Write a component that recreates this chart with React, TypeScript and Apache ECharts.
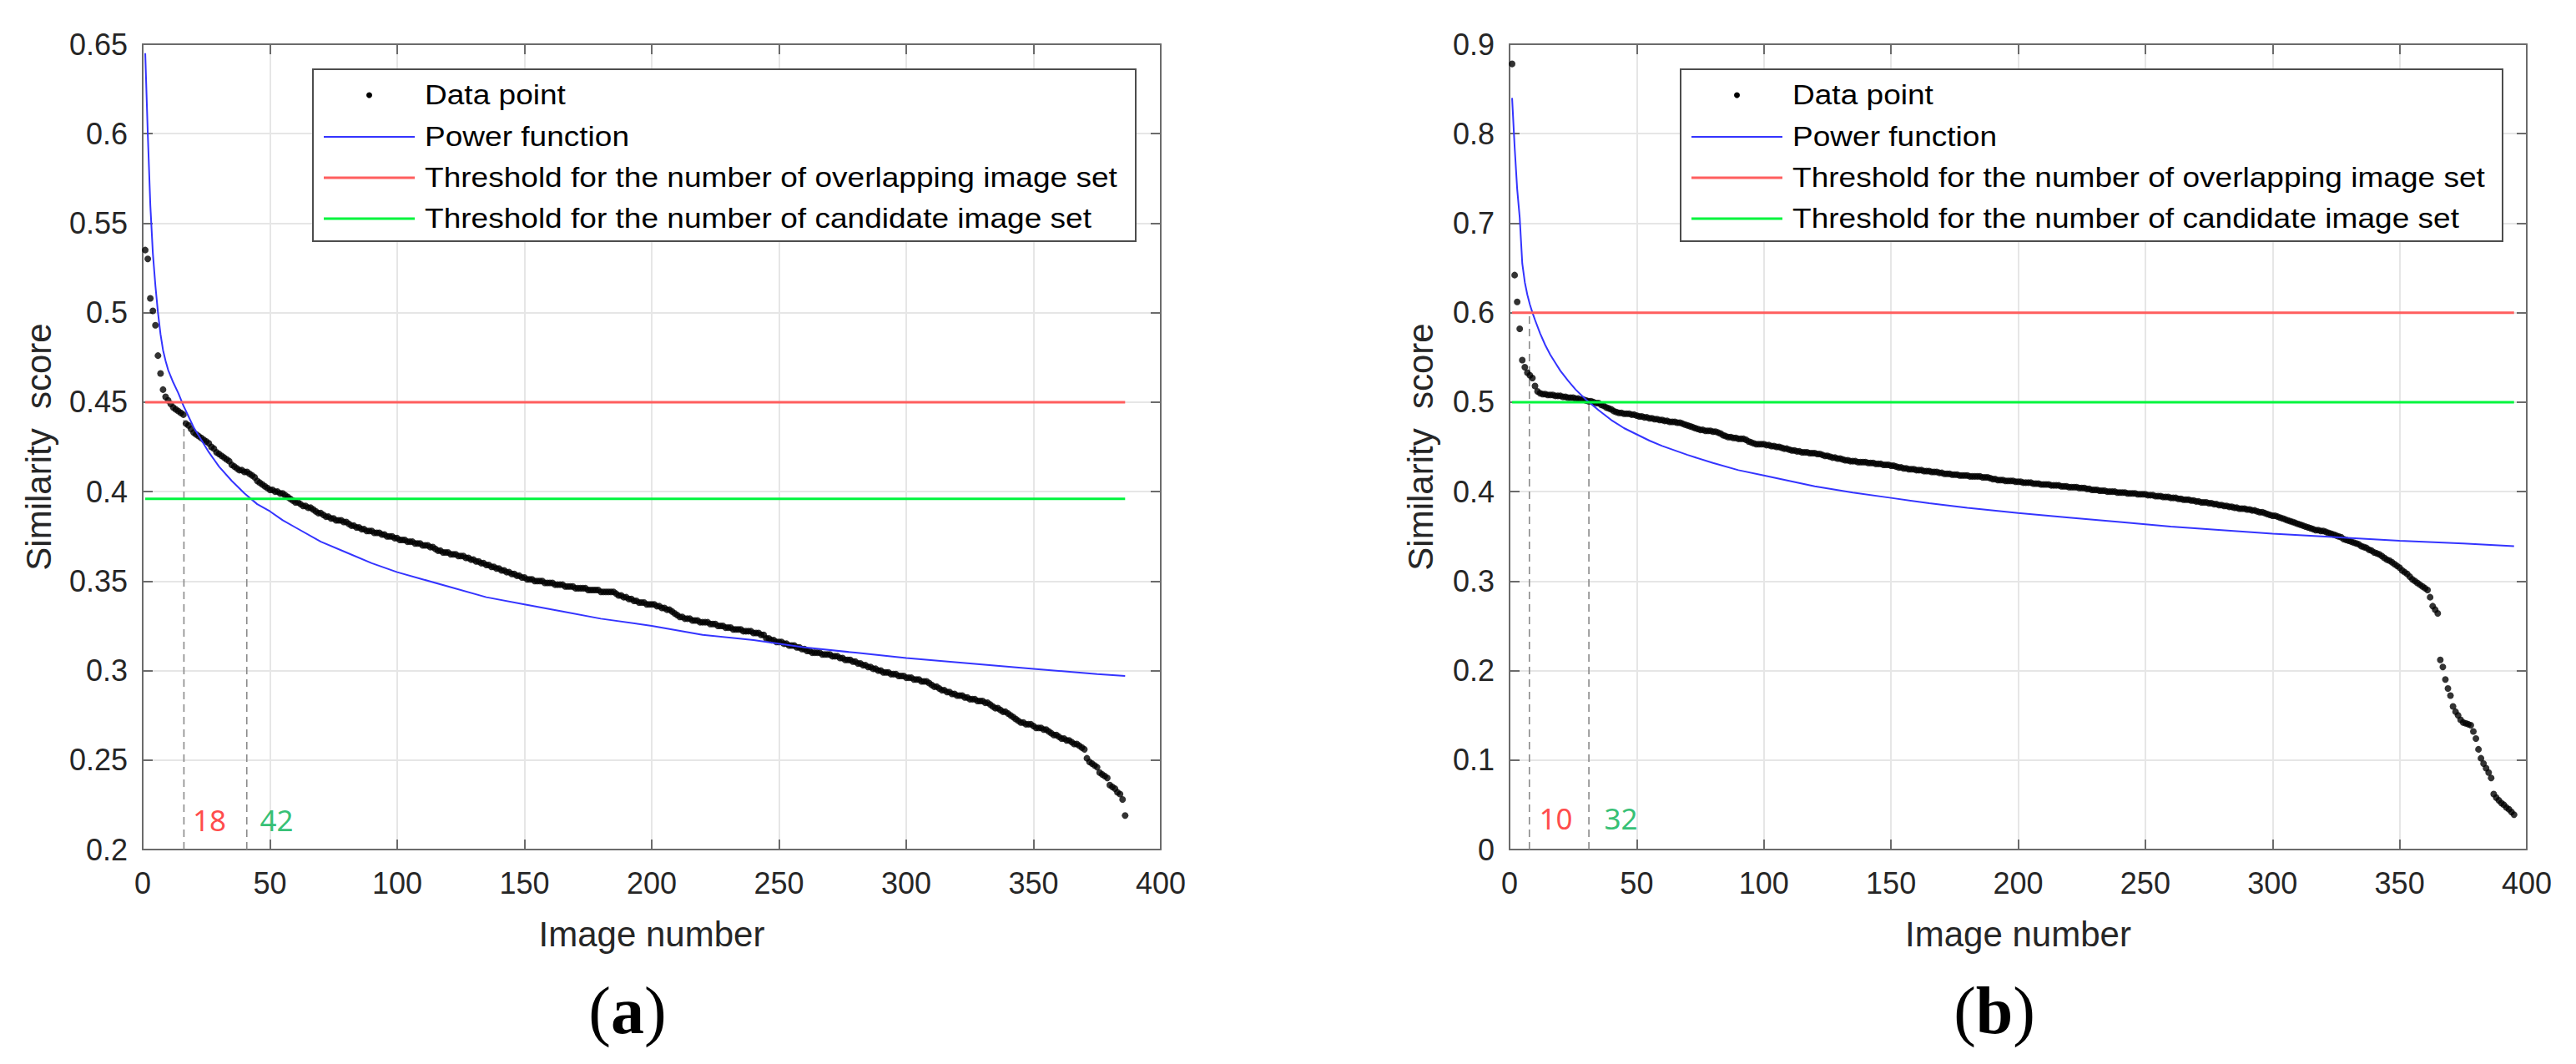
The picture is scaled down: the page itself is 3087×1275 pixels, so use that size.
import React, { useEffect, useRef } from "react";
import * as echarts from "echarts";

const W = 3087;
const H = 1275;

// ---------- data ----------
const xTickRange = [0, 400, 50];
const leftYRange = [0.2, 0.65, 0.05];
const rightYRange = [0, 0.9, 0.1];

const legendLabels = [
  "Data point",
  "Power function",
  "Threshold for the number of overlapping image set",
  "Threshold for the number of candidate image set",
];

const leftScores = [
  0.535, 0.530, 0.508, 0.501, 0.493, 0.476, 0.466, 0.457, 0.453, 0.451,
  0.449, 0.447, 0.446, 0.445, 0.444, 0.443, 0.438, 0.437, 0.435, 0.433,
  0.432, 0.431, 0.430, 0.429, 0.428, 0.427, 0.425, 0.424, 0.422, 0.421,
  0.420, 0.419, 0.418, 0.417, 0.415, 0.414, 0.413, 0.412, 0.412, 0.411,
  0.411, 0.410, 0.409, 0.408, 0.406, 0.405, 0.404, 0.403, 0.402, 0.401,
  0.401, 0.400, 0.400, 0.399, 0.399, 0.398, 0.397, 0.396, 0.395, 0.394,
  0.394, 0.393, 0.392, 0.392, 0.391, 0.391, 0.390, 0.389, 0.388, 0.388,
  0.387, 0.386, 0.386, 0.385, 0.385, 0.384, 0.384, 0.384, 0.383, 0.383,
  0.382, 0.381, 0.381, 0.380, 0.380, 0.379, 0.379, 0.378, 0.378, 0.378,
  0.377, 0.377, 0.377, 0.376, 0.376, 0.375, 0.375, 0.375, 0.374, 0.374,
  0.373, 0.373, 0.373, 0.372, 0.372, 0.372, 0.371, 0.371, 0.371, 0.370,
  0.370, 0.370, 0.369, 0.369, 0.368, 0.367, 0.367, 0.366, 0.366, 0.366,
  0.365, 0.365, 0.365, 0.364, 0.364, 0.364, 0.363, 0.363, 0.362, 0.362,
  0.361, 0.361, 0.360, 0.360, 0.359, 0.359, 0.358, 0.358, 0.357, 0.357,
  0.356, 0.356, 0.355, 0.355, 0.354, 0.354, 0.353, 0.353, 0.352, 0.352,
  0.351, 0.351, 0.351, 0.350, 0.350, 0.350, 0.350, 0.349, 0.349, 0.349,
  0.349, 0.348, 0.348, 0.348, 0.348, 0.347, 0.347, 0.347, 0.347, 0.346,
  0.346, 0.346, 0.346, 0.346, 0.345, 0.345, 0.345, 0.345, 0.345, 0.344,
  0.344, 0.344, 0.344, 0.344, 0.344, 0.343, 0.342, 0.342, 0.341, 0.341,
  0.340, 0.340, 0.339, 0.339, 0.338, 0.338, 0.338, 0.337, 0.337, 0.337,
  0.337, 0.336, 0.336, 0.335, 0.335, 0.334, 0.334, 0.333, 0.332, 0.331,
  0.330, 0.330, 0.329, 0.329, 0.329, 0.328, 0.328, 0.328, 0.327, 0.327,
  0.327, 0.327, 0.326, 0.326, 0.326, 0.325, 0.325, 0.325, 0.324, 0.324,
  0.324, 0.323, 0.323, 0.323, 0.323, 0.322, 0.322, 0.322, 0.322, 0.321,
  0.321, 0.321, 0.320, 0.320, 0.318, 0.318, 0.317, 0.317, 0.316, 0.316,
  0.316, 0.315, 0.315, 0.314, 0.314, 0.314, 0.313, 0.313, 0.312, 0.312,
  0.311, 0.311, 0.310, 0.310, 0.310, 0.310, 0.309, 0.309, 0.309, 0.309,
  0.308, 0.308, 0.308, 0.307, 0.307, 0.306, 0.306, 0.306, 0.305, 0.305,
  0.304, 0.304, 0.303, 0.303, 0.302, 0.302, 0.301, 0.301, 0.300, 0.300,
  0.299, 0.299, 0.299, 0.298, 0.298, 0.298, 0.297, 0.297, 0.297, 0.296,
  0.296, 0.296, 0.295, 0.295, 0.295, 0.294, 0.294, 0.294, 0.293, 0.292,
  0.291, 0.291, 0.290, 0.289, 0.289, 0.288, 0.288, 0.287, 0.287, 0.286,
  0.286, 0.286, 0.285, 0.285, 0.284, 0.284, 0.284, 0.283, 0.283, 0.283,
  0.282, 0.282, 0.281, 0.280, 0.279, 0.279, 0.278, 0.277, 0.277, 0.276,
  0.275, 0.274, 0.273, 0.272, 0.271, 0.271, 0.270, 0.270, 0.270, 0.269,
  0.268, 0.268, 0.268, 0.267, 0.267, 0.266, 0.265, 0.264, 0.264, 0.263,
  0.262, 0.262, 0.261, 0.261, 0.260, 0.259, 0.259, 0.258, 0.257, 0.256,
  0.251, 0.249, 0.248, 0.247, 0.246, 0.243, 0.242, 0.241, 0.240, 0.236,
  0.235, 0.234, 0.232, 0.231, 0.228, 0.219,
];

const rightScores = [
  0.878, 0.642, 0.612, 0.582, 0.547, 0.539, 0.533, 0.530, 0.527, 0.518,
  0.512, 0.510, 0.509, 0.509, 0.508, 0.508, 0.508, 0.507, 0.507, 0.507,
  0.506, 0.506, 0.505, 0.505, 0.505, 0.504, 0.504, 0.503, 0.503, 0.502,
  0.501, 0.501, 0.500, 0.499, 0.499, 0.497, 0.496, 0.494, 0.493, 0.492,
  0.490, 0.489, 0.488, 0.488, 0.487, 0.487, 0.487, 0.486, 0.486, 0.485,
  0.484, 0.484, 0.483, 0.483, 0.482, 0.482, 0.481, 0.481, 0.480, 0.480,
  0.479, 0.479, 0.478, 0.478, 0.478, 0.477, 0.477, 0.476, 0.475, 0.474,
  0.473, 0.472, 0.471, 0.470, 0.469, 0.469, 0.468, 0.468, 0.468, 0.467,
  0.467, 0.466, 0.465, 0.463, 0.462, 0.461, 0.461, 0.460, 0.460, 0.459,
  0.459, 0.459, 0.458, 0.456, 0.455, 0.454, 0.453, 0.453, 0.453, 0.453,
  0.452, 0.452, 0.451, 0.451, 0.450, 0.450, 0.449, 0.448, 0.448, 0.447,
  0.446, 0.446, 0.445, 0.445, 0.444, 0.444, 0.444, 0.443, 0.443, 0.443,
  0.442, 0.442, 0.441, 0.440, 0.440, 0.439, 0.438, 0.438, 0.437, 0.437,
  0.436, 0.435, 0.435, 0.434, 0.434, 0.434, 0.433, 0.433, 0.433, 0.433,
  0.432, 0.432, 0.432, 0.431, 0.431, 0.431, 0.430, 0.430, 0.430, 0.429,
  0.429, 0.428, 0.427, 0.427, 0.426, 0.426, 0.425, 0.425, 0.425, 0.424,
  0.424, 0.424, 0.423, 0.423, 0.423, 0.422, 0.422, 0.422, 0.421, 0.421,
  0.420, 0.420, 0.420, 0.419, 0.419, 0.419, 0.418, 0.418, 0.418, 0.418,
  0.417, 0.417, 0.417, 0.417, 0.417, 0.416, 0.416, 0.416, 0.415, 0.414,
  0.414, 0.413, 0.413, 0.413, 0.412, 0.412, 0.412, 0.412, 0.411, 0.411,
  0.411, 0.410, 0.410, 0.410, 0.410, 0.409, 0.409, 0.409, 0.408, 0.408,
  0.408, 0.408, 0.407, 0.407, 0.407, 0.407, 0.406, 0.406, 0.406, 0.405,
  0.405, 0.405, 0.405, 0.404, 0.404, 0.404, 0.403, 0.403, 0.402, 0.402,
  0.402, 0.401, 0.401, 0.401, 0.400, 0.400, 0.400, 0.400, 0.399, 0.399,
  0.399, 0.399, 0.398, 0.398, 0.398, 0.398, 0.397, 0.397, 0.397, 0.397,
  0.396, 0.396, 0.396, 0.395, 0.395, 0.395, 0.394, 0.394, 0.394, 0.393,
  0.393, 0.393, 0.392, 0.392, 0.391, 0.391, 0.391, 0.390, 0.390, 0.389,
  0.389, 0.388, 0.388, 0.388, 0.387, 0.387, 0.386, 0.386, 0.385, 0.385,
  0.384, 0.384, 0.383, 0.383, 0.382, 0.382, 0.381, 0.381, 0.381, 0.380,
  0.380, 0.379, 0.379, 0.378, 0.377, 0.377, 0.376, 0.375, 0.374, 0.373,
  0.373, 0.372, 0.371, 0.370, 0.369, 0.368, 0.367, 0.366, 0.365, 0.364,
  0.363, 0.362, 0.361, 0.360, 0.359, 0.358, 0.357, 0.357, 0.356, 0.356,
  0.355, 0.354, 0.353, 0.352, 0.351, 0.350, 0.349, 0.347, 0.346, 0.345,
  0.344, 0.343, 0.342, 0.341, 0.339, 0.338, 0.337, 0.335, 0.334, 0.332,
  0.331, 0.330, 0.328, 0.326, 0.324, 0.323, 0.321, 0.319, 0.317, 0.315,
  0.312, 0.310, 0.308, 0.305, 0.302, 0.300, 0.298, 0.296, 0.294, 0.292,
  0.290, 0.282, 0.272, 0.268, 0.264, 0.212, 0.204, 0.190, 0.180, 0.172,
  0.160, 0.154, 0.150, 0.145, 0.142, 0.141, 0.140, 0.139, 0.132, 0.124,
  0.112, 0.102, 0.096, 0.091, 0.086, 0.080, 0.062, 0.058, 0.055, 0.052,
  0.050, 0.047, 0.045, 0.042, 0.039,
];

// fitted power-function curve
const leftPowerX = [1, 2, 3, 4, 5, 6, 7, 8, 9, 10, 12, 14, 16, 18, 20, 23, 26, 30, 35, 40, 45, 50, 55, 60, 70, 80, 90, 100, 110, 120, 135, 150, 165, 180, 200, 220, 240, 260, 280, 300, 325, 350, 375, 386];
const leftPowerY = [0.645, 0.6, 0.56, 0.533, 0.515, 0.5, 0.488, 0.479, 0.473, 0.468, 0.461, 0.455, 0.448, 0.442, 0.436, 0.429, 0.422, 0.414, 0.406, 0.399, 0.393, 0.389, 0.384, 0.38, 0.372, 0.366, 0.36, 0.355, 0.351, 0.347, 0.341, 0.337, 0.333, 0.329, 0.325, 0.32, 0.317, 0.313, 0.31, 0.307, 0.304, 0.301, 0.298, 0.297];
const rightPowerX = [1, 2, 3, 4, 5, 6, 7, 8, 9, 10, 12, 14, 16, 18, 20, 23, 26, 30, 35, 40, 45, 50, 55, 60, 70, 80, 90, 100, 110, 120, 135, 150, 165, 180, 200, 220, 240, 260, 280, 300, 325, 350, 375, 395];
const rightPowerY = [0.84, 0.785, 0.738, 0.706, 0.655, 0.634, 0.62, 0.609, 0.6, 0.592, 0.577, 0.564, 0.553, 0.544, 0.535, 0.524, 0.514, 0.503, 0.491, 0.48, 0.471, 0.464, 0.457, 0.451, 0.441, 0.432, 0.424, 0.418, 0.412, 0.406, 0.399, 0.393, 0.387, 0.382, 0.376, 0.371, 0.366, 0.361, 0.357, 0.353, 0.349, 0.345, 0.342, 0.339];

// thresholds: [overlapping, candidate]
const leftThresholds = [0.45, 0.396];
const rightThresholds = [0.6, 0.5];
// dashed cut-off lines: x position, top value
const leftCutX = [16.2, 40.9];
const leftCutTop = [0.44, 0.396];
const rightCutX = [7.8, 31.2];
const rightCutTop = [0.6, 0.5];
// annotation numbers and their anchor (data coords)
const leftAnnText = ["18", "42"];
const leftAnnX = [26.2, 52.6];
const leftAnnY = [0.2166, 0.2166];
const rightAnnText = ["10", "32"];
const rightAnnX = [18.2, 43.8];
const rightAnnY = [0.0348, 0.0348];

// ---------- styles ----------
const SANS = "'Liberation Sans', Arial, Helvetica, sans-serif";
const SERIF = "'Liberation Serif', 'Times New Roman', serif";
const AXIS_COLOR = "#6b6b6b";
const LABEL_COLOR = "#262626";
const GRID_COLOR = "#e6e6e6";
const BLUE = "#3434ff";
const RED = "#ff5e5e";
const GREEN = "#00f53d";
const ANN_COLORS = ["#ff1a1a", "#00b050"];

const grids = [
  { left: 171, top: 53, width: 1220, height: 965 },
  { left: 1809, top: 53, width: 1219, height: 965 },
];

function fmt(v: number) {
  return String(parseFloat(v.toFixed(2)));
}

function mainX(gridIndex: number) {
  return {
    type: "value",
    gridIndex,
    position: "bottom",
    min: xTickRange[0],
    max: xTickRange[1],
    interval: xTickRange[2],
    name: "Image number",
    nameLocation: "middle",
    nameGap: 80,
    nameTextStyle: { fontFamily: SANS, fontSize: 42, color: LABEL_COLOR },
    axisLine: { show: true, onZero: false, lineStyle: { color: AXIS_COLOR, width: 2 } },
    axisTick: { show: true, inside: true, length: 12, lineStyle: { color: AXIS_COLOR, width: 2 } },
    axisLabel: { fontFamily: SANS, fontSize: 36, color: LABEL_COLOR, margin: 22 },
    splitLine: { show: true, lineStyle: { color: GRID_COLOR, width: 2 } },
  };
}
function topX(gridIndex: number) {
  return {
    type: "value",
    gridIndex,
    position: "top",
    min: xTickRange[0],
    max: xTickRange[1],
    interval: xTickRange[2],
    axisLine: { show: true, onZero: false, lineStyle: { color: AXIS_COLOR, width: 2 } },
    axisTick: { show: true, inside: true, length: 12, lineStyle: { color: AXIS_COLOR, width: 2 } },
    axisLabel: { show: false },
    splitLine: { show: false },
  };
}
function mainY(gridIndex: number, range: number[], nameGap: number) {
  return {
    type: "value",
    gridIndex,
    position: "left",
    min: range[0],
    max: range[1],
    interval: range[2],
    name: "Similarity  score",
    nameLocation: "middle",
    nameGap,
    nameTextStyle: { fontFamily: SANS, fontSize: 42, color: LABEL_COLOR },
    axisLine: { show: true, onZero: false, lineStyle: { color: AXIS_COLOR, width: 2 } },
    axisTick: { show: true, inside: true, length: 12, lineStyle: { color: AXIS_COLOR, width: 2 } },
    axisLabel: { fontFamily: SANS, fontSize: 36, color: LABEL_COLOR, margin: 18, formatter: fmt },
    splitLine: { show: true, lineStyle: { color: GRID_COLOR, width: 2 } },
  };
}
function rightY(gridIndex: number, range: number[]) {
  return {
    type: "value",
    gridIndex,
    position: "right",
    min: range[0],
    max: range[1],
    interval: range[2],
    axisLine: { show: true, onZero: false, lineStyle: { color: AXIS_COLOR, width: 2 } },
    axisTick: { show: true, inside: true, length: 12, lineStyle: { color: AXIS_COLOR, width: 2 } },
    axisLabel: { show: false },
    splitLine: { show: false },
  };
}

function panelSeries(
  xi: number,
  yi: number,
  scores: number[],
  px: number[],
  py: number[],
  thr: number[],
  cutX: number[],
  cutTop: number[],
  yMin: number,
  annText: string[],
  annX: number[],
  annY: number[]
) {
  const n = scores.length;
  const base = { xAxisIndex: xi, yAxisIndex: yi, silent: true, animation: false };
  const out: any[] = [
    {
      ...base,
      type: "scatter",
      name: legendLabels[0],
      symbol: "circle",
      symbolSize: 8,
      itemStyle: { color: "#000" },
      data: scores.map((v, i) => [i + 1, v]),
      z: 2,
    },
    {
      ...base,
      type: "line",
      name: legendLabels[1],
      symbol: "none",
      lineStyle: { color: BLUE, width: 2 },
      data: px.map((x, i) => [x, py[i]]),
      z: 3,
    },
    {
      ...base,
      type: "line",
      name: legendLabels[2],
      symbol: "none",
      lineStyle: { color: RED, width: 3 },
      data: [[1, thr[0]], [n, thr[0]]],
      z: 4,
    },
    {
      ...base,
      type: "line",
      name: legendLabels[3],
      symbol: "none",
      lineStyle: { color: GREEN, width: 3 },
      data: [[1, thr[1]], [n, thr[1]]],
      z: 4,
    },
  ];
  cutX.forEach((cx, i) => {
    out.push({
      ...base,
      type: "line",
      symbol: "none",
      lineStyle: { color: "#8a8a8a", width: 1.6, type: [9, 6] },
      data: [[cx, yMin], [cx, cutTop[i]]],
      z: 1,
    });
  });
  out.push({
    ...base,
    type: "scatter",
    symbolSize: 0,
    itemStyle: { color: "rgba(0,0,0,0)" },
    data: annText.map((t, i) => ({
      name: t,
      value: [annX[i], annY[i]],
      label: { color: ANN_COLORS[i] },
    })),
    label: {
      show: true,
      position: "inside",
      formatter: "{b}",
      fontFamily: "'Noto Sans', 'DejaVu Sans', sans-serif",
      fontSize: 35,
    },
    z: 6,
  });
  return out;
}

function legendGraphic(box: { x: number; y: number; w: number; h: number }) {
  const rows = [31, 81, 130, 179];
  const lineX0 = box.x + 13;
  const lineX1 = box.x + 122;
  const textX = box.x + 134;
  const els: any[] = [
    {
      type: "rect",
      z: 100,
      shape: { x: box.x, y: box.y, width: box.w, height: box.h },
      style: { fill: "#fff", stroke: "#4d4d4d", lineWidth: 2 },
    },
    {
      type: "circle",
      z: 101,
      shape: { cx: (lineX0 + lineX1) / 2, cy: box.y + rows[0], r: 3.5 },
      style: { fill: "#000" },
    },
  ];
  const lineColors = [BLUE, RED, GREEN];
  const lineWidths = [2, 3, 3];
  for (let i = 1; i < 4; i++) {
    els.push({
      type: "line",
      z: 101,
      shape: { x1: lineX0, y1: box.y + rows[i], x2: lineX1, y2: box.y + rows[i] },
      style: { stroke: lineColors[i - 1], lineWidth: lineWidths[i - 1] },
    });
  }
  legendLabels.forEach((t, i) => {
    els.push({
      type: "text",
      z: 101,
      x: textX,
      y: box.y + rows[i],
      scaleX: 1.09,
      style: {
        text: t,
        x: 0,
        y: 0,
        fill: "#000",
        fontFamily: SANS,
        fontSize: 34,
        align: "left",
        verticalAlign: "middle",
      },
    });
  });
  return els;
}

function caption(letter: string, cx: number, cy: number) {
  return {
    type: "text",
    z: 100,
    x: cx,
    y: cy,
    style: {
      text: "{p|(}{b|" + letter + "}{p|)}",
      align: "center",
      verticalAlign: "middle",
      fill: "#000",
      rich: {
        p: { fontFamily: SERIF, fontSize: 80, fill: "#000" },
        b: { fontFamily: SERIF, fontSize: 80, fontWeight: "bold", fill: "#000" },
      },
    },
  };
}

export default function App() {
  const ref = useRef<HTMLDivElement>(null);
  useEffect(() => {
    if (!ref.current) return;
    const chart = echarts.init(ref.current, undefined, { renderer: "svg", width: W, height: H });
    const option: any = {
      animation: false,
      backgroundColor: "#ffffff",
      grid: grids,
      xAxis: [mainX(0), topX(0), mainX(1), topX(1)],
      yAxis: [mainY(0, leftYRange, 104), rightY(0, leftYRange), mainY(1, rightYRange, 86), rightY(1, rightYRange)],
      series: [
        ...panelSeries(0, 0, leftScores, leftPowerX, leftPowerY, leftThresholds, leftCutX, leftCutTop, leftYRange[0], leftAnnText, leftAnnX, leftAnnY),
        ...panelSeries(2, 2, rightScores, rightPowerX, rightPowerY, rightThresholds, rightCutX, rightCutTop, rightYRange[0], rightAnnText, rightAnnX, rightAnnY),
      ],
      graphic: [
        ...legendGraphic({ x: 375, y: 83, w: 986, h: 206 }),
        ...legendGraphic({ x: 2014, y: 83, w: 985, h: 206 }),
        caption("a", 752, 1211),
        caption("b", 2390, 1211),
      ],
    };
    chart.setOption(option);
    return () => chart.dispose();
  }, []);
  return (
    <div
      ref={ref}
      style={{ position: "absolute", left: 0, top: 0, width: W, height: H, background: "#fff" }}
    />
  );
}
